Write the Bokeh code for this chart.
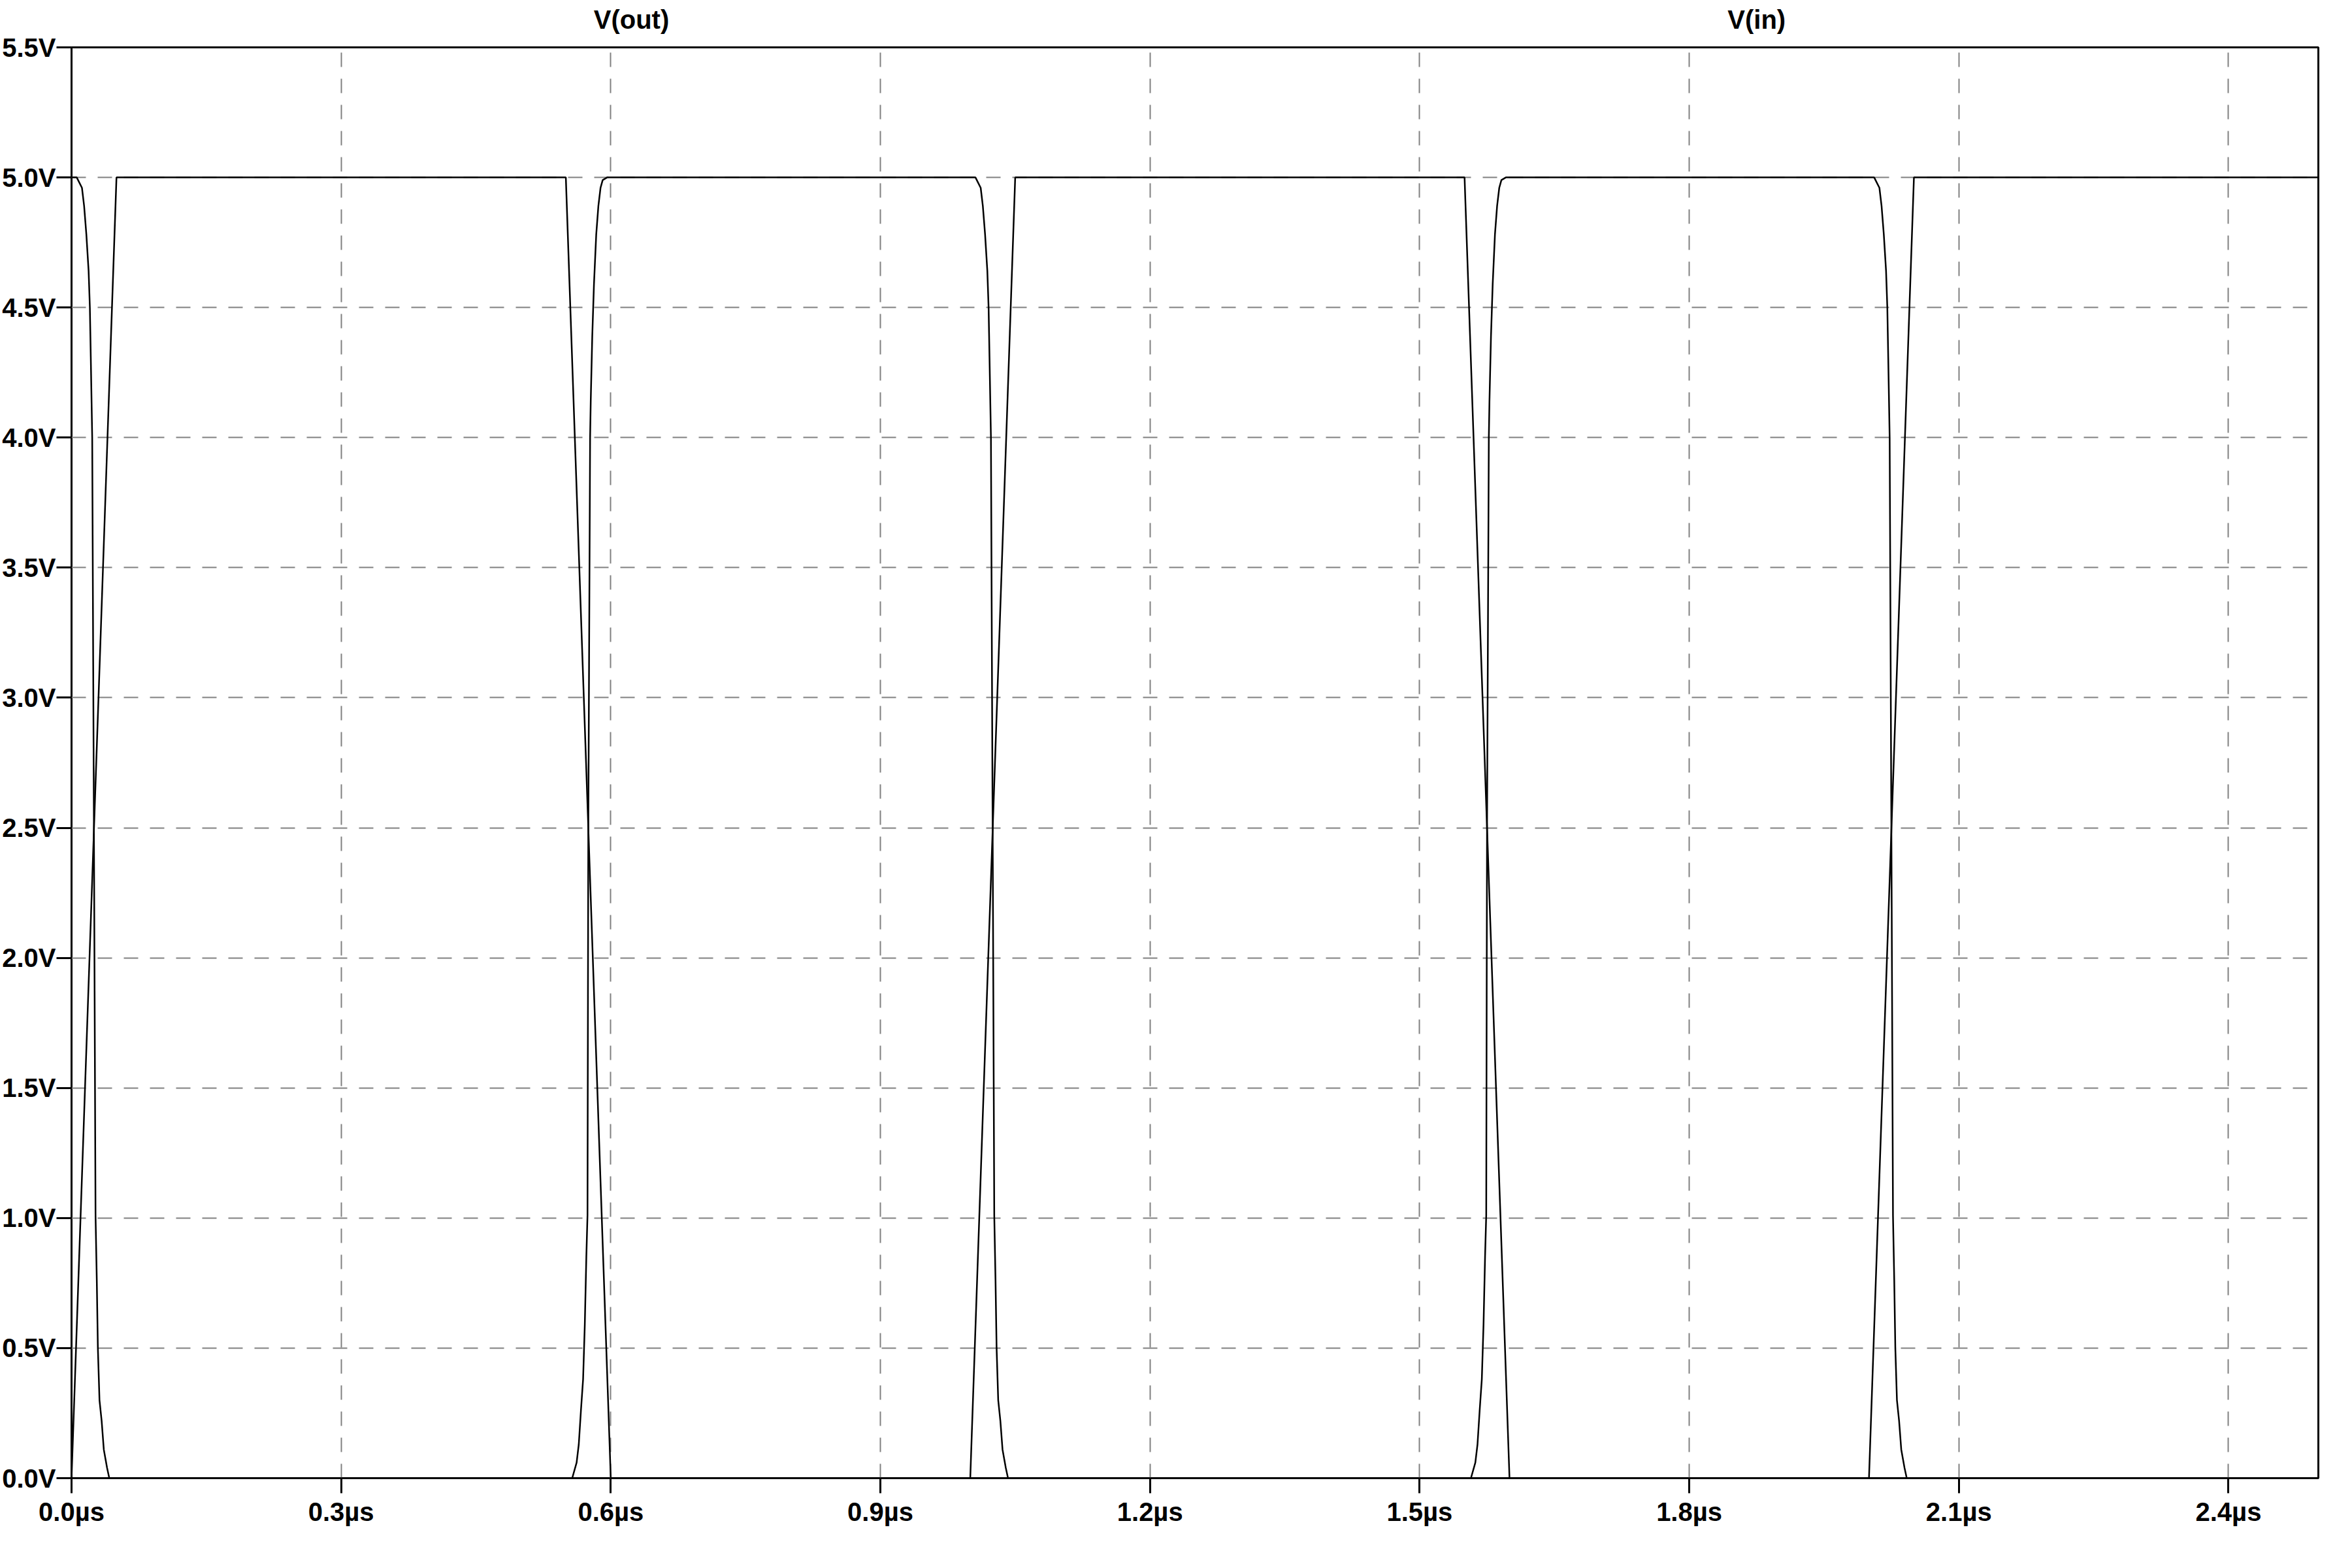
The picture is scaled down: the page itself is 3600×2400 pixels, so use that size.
from bokeh.plotting import figure
from bokeh.models import Range1d, FixedTicker, CustomJSTickFormatter, LinearAxis
from bokeh.embed import file_html
from bokeh.resources import INLINE

# ---- data (time in µs, voltage in V) ----
vin_t = [0.0, 0.05, 0.55, 0.60, 1.00, 1.05, 1.55, 1.60, 2.00, 2.05, 2.50]
vin_v = [0.0, 5.0, 5.0, 0.0, 0.0, 5.0, 5.0, 0.0, 0.0, 5.0, 5.0]

vout_t = [
    0.0000, 0.0058, 0.0116, 0.0140, 0.0165, 0.0190, 0.0204, 0.0214, 0.0230, 0.0249,
    0.0267, 0.0281, 0.0293, 0.0311, 0.0335, 0.0359, 0.0395, 0.0420,
    0.5571, 0.5620, 0.5644, 0.5668, 0.5692, 0.5711, 0.5728, 0.5741, 0.5750, 0.5770,
    0.5777, 0.5794, 0.5813, 0.5838, 0.5862, 0.5886, 0.5910, 0.5959,
    1.0058, 1.0116, 1.0140, 1.0165, 1.0190, 1.0204, 1.0214, 1.0230, 1.0249,
    1.0267, 1.0281, 1.0293, 1.0311, 1.0335, 1.0359, 1.0395, 1.0420,
    1.5571, 1.5620, 1.5644, 1.5668, 1.5692, 1.5711, 1.5728, 1.5741, 1.5750, 1.5770,
    1.5777, 1.5794, 1.5813, 1.5838, 1.5862, 1.5886, 1.5910, 1.5959,
    2.0058, 2.0116, 2.0140, 2.0165, 2.0190, 2.0204, 2.0214, 2.0230, 2.0249,
    2.0267, 2.0281, 2.0293, 2.0311, 2.0335, 2.0359, 2.0395, 2.0420,
    2.5000,
]
vout_v = [
    5.00, 5.00, 4.96, 4.89, 4.78, 4.64, 4.50, 4.31, 4.00, 2.50,
    1.01, 0.76, 0.50, 0.30, 0.22, 0.11, 0.04, 0.00,
    0.00, 0.06, 0.13, 0.26, 0.38, 0.59, 0.85, 1.01, 2.50, 4.00,
    4.14, 4.39, 4.59, 4.78, 4.89, 4.96, 4.99, 5.00,
    5.00, 4.96, 4.89, 4.78, 4.64, 4.50, 4.31, 4.00, 2.50,
    1.01, 0.76, 0.50, 0.30, 0.22, 0.11, 0.04, 0.00,
    0.00, 0.06, 0.13, 0.26, 0.38, 0.59, 0.85, 1.01, 2.50, 4.00,
    4.14, 4.39, 4.59, 4.78, 4.89, 4.96, 4.99, 5.00,
    5.00, 4.96, 4.89, 4.78, 4.64, 4.50, 4.31, 4.00, 2.50,
    1.01, 0.76, 0.50, 0.30, 0.22, 0.11, 0.04, 0.00,
    0.00,
]

x_ticks = [0.0, 0.3, 0.6, 0.9, 1.2, 1.5, 1.8, 2.1, 2.4]
x_tick_labels = ["0.0µs", "0.3µs", "0.6µs", "0.9µs", "1.2µs", "1.5µs", "1.8µs", "2.1µs", "2.4µs"]
y_ticks = [0.0, 0.5, 1.0, 1.5, 2.0, 2.5, 3.0, 3.5, 4.0, 4.5, 5.0, 5.5]
y_tick_labels = ["0.0V", "0.5V", "1.0V", "1.5V", "2.0V", "2.5V", "3.0V", "3.5V",
                 "4.0V", "4.5V", "5.0V", "5.5V"]

trace_names = ["V(out)", "V(in)"]
trace_name_x = [0.623, 1.875]

FONT = "Liberation Sans"

p = figure(width=3584, height=2384, output_backend="svg", toolbar_location=None,
           x_range=Range1d(0, 2.5), y_range=Range1d(0, 5.5))
p.min_border_left = 101
p.min_border_right = 36
p.min_border_top = 72
p.min_border_bottom = 122
p.background_fill_color = "white"
p.border_fill_color = "white"
p.outline_line_color = "black"
p.outline_line_width = 3

lookup_code = """
let best = 0, bd = 1e9;
for (let i = 0; i < tvals.length; i++) {
  const d = Math.abs(tvals[i] - tick);
  if (d < bd) { bd = d; best = i; }
}
return tlabels[best];
"""

x_axis = p.below[0]
y_axis = p.left[0]
x_ticker = FixedTicker(ticks=x_ticks)
y_ticker = FixedTicker(ticks=y_ticks)
x_axis.ticker = x_ticker
y_axis.ticker = y_ticker
x_axis.formatter = CustomJSTickFormatter(args=dict(tvals=x_ticks, tlabels=x_tick_labels), code=lookup_code)
y_axis.formatter = CustomJSTickFormatter(args=dict(tvals=y_ticks, tlabels=y_tick_labels), code=lookup_code)
p.xgrid[0].ticker = x_ticker
p.ygrid[0].ticker = y_ticker

for ax in (x_axis, y_axis):
    ax.axis_line_color = None
    ax.major_tick_out = 23
    ax.major_tick_in = 0
    ax.major_tick_line_width = 3
    ax.major_tick_line_color = "black"
    ax.minor_tick_line_color = None
x_axis.major_label_standoff = 6
y_axis.major_label_standoff = 1

# trace names shown above the plot, placed by the x scale
names_axis = LinearAxis(ticker=FixedTicker(ticks=trace_name_x),
                        formatter=CustomJSTickFormatter(args=dict(tvals=trace_name_x, tlabels=trace_names),
                                                        code=lookup_code))
names_axis.axis_line_color = None
names_axis.major_tick_line_color = None
names_axis.minor_tick_line_color = None
names_axis.major_tick_out = 0
names_axis.major_tick_in = 0
names_axis.major_label_standoff = 21
p.add_layout(names_axis, "above")

for ax in (x_axis, y_axis, names_axis):
    ax.major_label_text_font = FONT
    ax.major_label_text_font_style = "bold"
    ax.major_label_text_font_size = "40px"
    ax.major_label_text_color = "black"

for g in (p.xgrid[0], p.ygrid[0]):
    g.grid_line_color = "#808080"
    g.grid_line_width = 2
    g.grid_line_dash = "22 18"

p.line(vin_t, vin_v, line_color="black", line_width=2.5)
p.line(vout_t, vout_v, line_color="black", line_width=2.5)

open("out.html", "w").write(file_html(p, INLINE))
